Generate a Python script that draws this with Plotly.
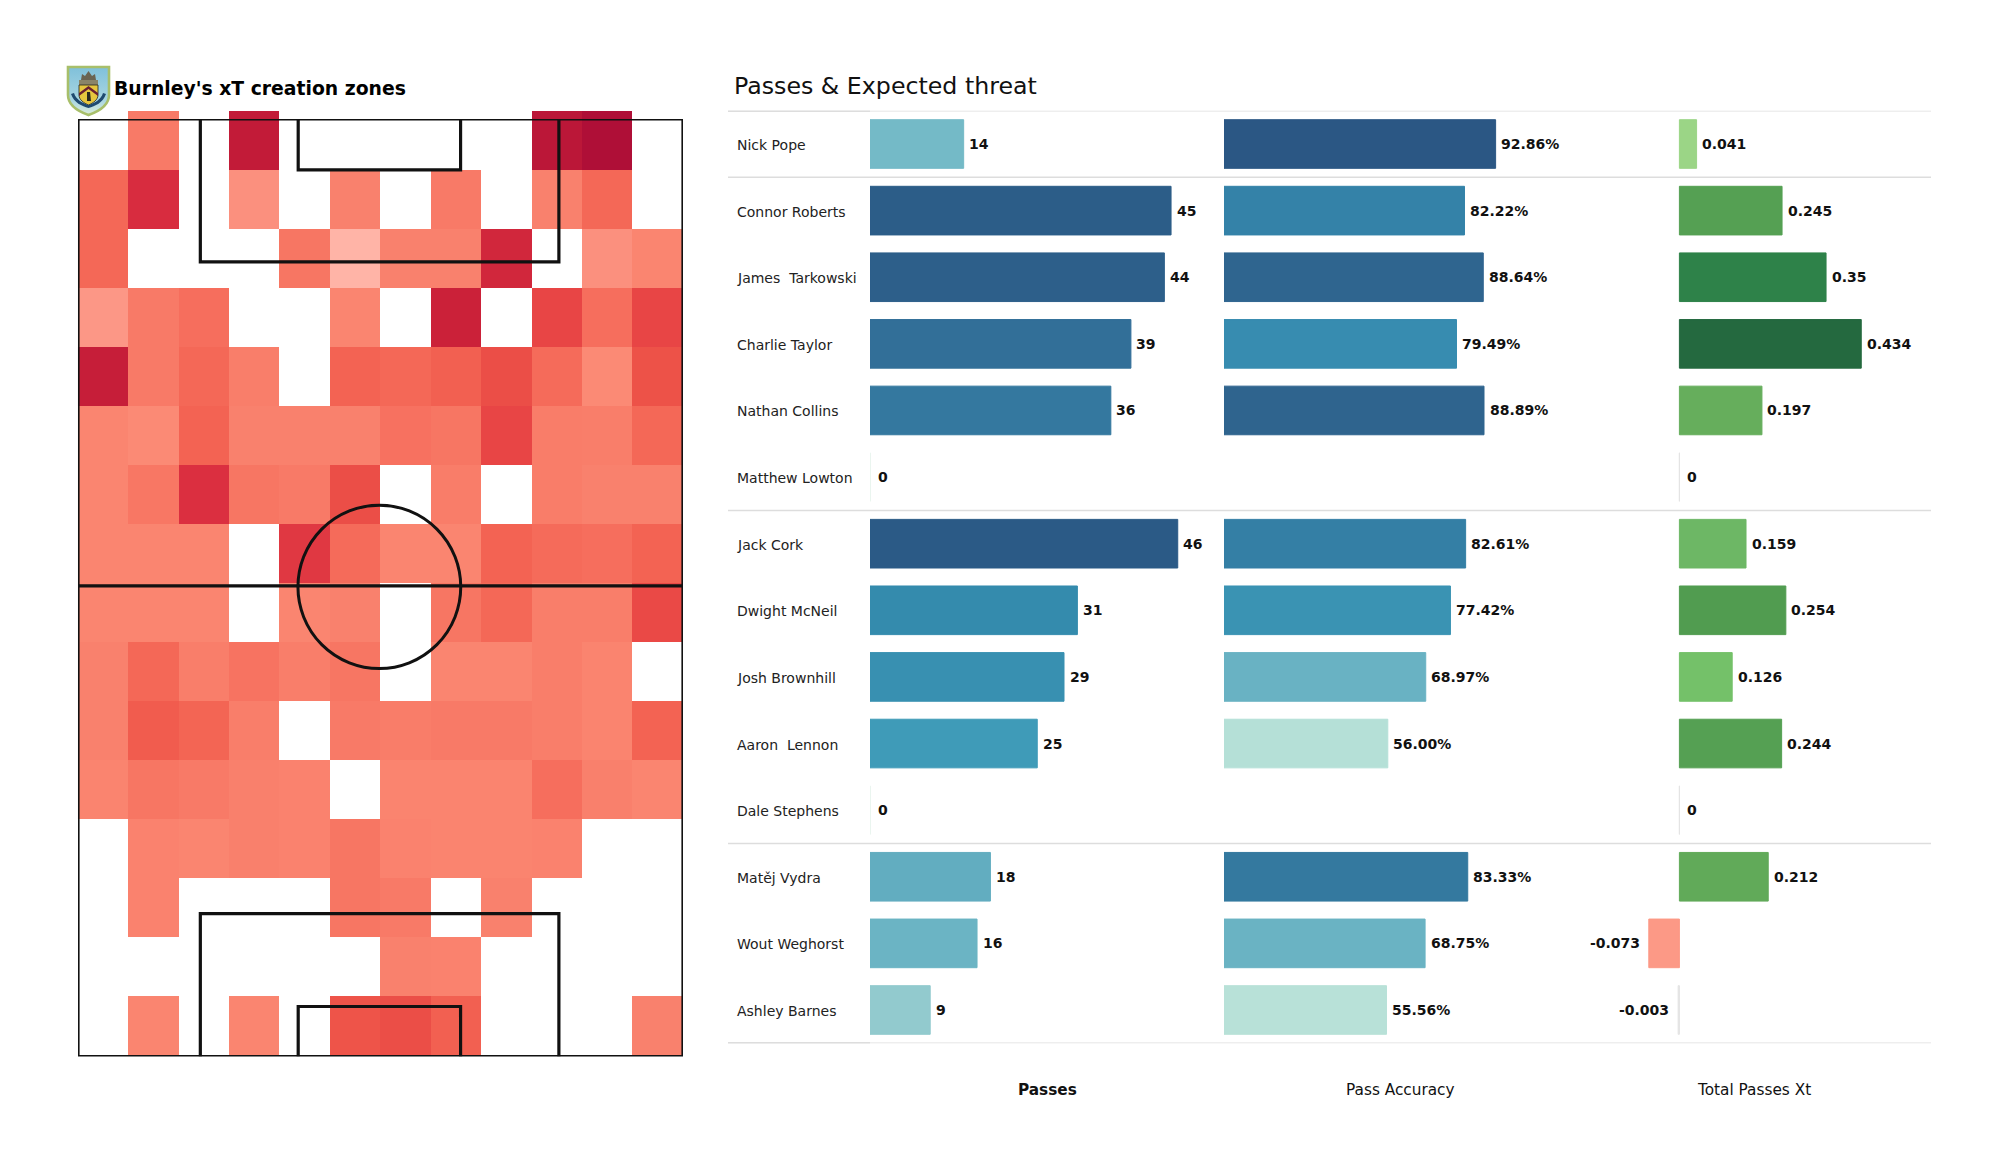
import base64
import plotly.graph_objects as go

# ---------- data ----------
players = ["Nick Pope", "Connor Roberts", "James  Tarkowski", "Charlie Taylor", "Nathan Collins",
           "Matthew Lowton", "Jack Cork", "Dwight McNeil", "Josh Brownhill", "Aaron  Lennon",
           "Dale Stephens", "Matěj Vydra", "Wout Weghorst", "Ashley Barnes"]
passes = [14, 45, 44, 39, 36, 0, 46, 31, 29, 25, 0, 18, 16, 9]
accuracy = [92.86, 82.22, 88.64, 79.49, 88.89, None, 82.61, 77.42, 68.97, 56.00, None, 83.33, 68.75, 55.56]
xt = [0.041, 0.245, 0.35, 0.434, 0.197, 0, 0.159, 0.254, 0.126, 0.244, 0, 0.212, -0.073, -0.003]
column_titles = ["Passes", "Pass Accuracy", "Total Passes Xt"]
group_edges = [-0.5, 0.5, 5.5, 10.5, 13.5]

# xT zones, top row first; None = no value in that zone
zones = [
    [None, .30, None, .88, None, None, None, None, None, .92, 1.0, None],
    [.42, .74, None, .17, None, .25, None, .30, None, .25, .42, None],
    [.42, None, None, None, .33, .02, .25, .25, .78, None, .17, .22],
    [.14, .30, .38, None, None, .22, None, .82, None, .62, .38, .62],
    [.85, .30, .42, .27, None, .45, .42, .47, .58, .40, .20, .56],
    [.22, .20, .45, .25, .25, .25, .36, .33, .62, .28, .27, .42],
    [.22, .32, .72, .33, .30, .58, None, .28, None, .28, .25, .25],
    [.22, .22, .22, None, .68, .40, .22, .22, .45, .40, .38, .45],
    [.22, .22, .22, None, .22, .25, None, .33, .42, .27, .27, .60],
    [.25, .42, .27, .35, .27, .33, None, .22, .22, .27, .23, None],
    [.25, .50, .44, .27, None, .30, .28, .30, .30, .27, .23, .45],
    [.23, .33, .30, .26, .24, None, .23, .23, .23, .38, .26, .22],
    [None, .24, .22, .26, .24, .33, .24, .23, .23, .24, None, None],
    [None, .24, None, None, None, .33, .30, None, .25, None, None, None],
    [None, None, None, None, None, None, .25, .24, None, None, None, None],
    [None, .22, None, .22, None, .55, .58, .47, None, None, None, .25],
]

# pitch outline in metres
pitch_x = [0, 68, 68, 0, 0, None, 0, 68, None,
           13.75, 13.75, 54.05, 54.05, None, 24.75, 24.75, 43.0, 43.0, None,
           13.75, 13.75, 54.05, 54.05, None, 24.75, 24.75, 43.0, 43.0]
pitch_y = [0, 0, 105, 105, 0, None, 52.3, 52.3, None,
           0, 16, 16, 0, None, 0, 5.7, 5.7, 0, None,
           105, 89, 89, 105, None, 105, 99.4, 99.4, 105]
circle_centre = (33.87, 52.4)
circle_radius = 9.15

# ---------- colour scales ----------
zone_scale = [[0, "#ffb9ad"], [.15, "#fc9583"], [.22, "#fa8570"], [.30, "#f87a67"], [.38, "#f66e5d"],
              [.45, "#f36353"], [.55, "#ee5449"], [.62, "#e84545"], [.72, "#db2f40"], [.82, "#cb2139"],
              [1, "#af0f37"]]
blue_stops = [(0, "#e4f2ea"), (9, "#92cace"), (14, "#74bac7"), (18, "#62adc0"), (25, "#3f9bb8"),
              (31, "#348bad"), (36, "#34789f"), (39, "#326f98"), (44, "#2d5f8a"), (46, "#2b5a86")]
acc_stops = [(55, "#bbe3d9"), (68.8, "#6ab3c3"), (77.4, "#3a93b3"), (79.5, "#378cb0"), (82.2, "#3482a8"),
             (83.3, "#34799f"), (88.6, "#2f658f"), (93, "#2b5784")]
xt_stops = [(-0.1, "#fb8a76"), (-0.073, "#fc9986"), (-0.01, "#e4e4e4"), (0, "#e4e4e4"), (0.001, "#c4e8b0"),
            (0.041, "#9bd586"), (0.126, "#74c169"), (0.159, "#6db765"), (0.197, "#66ae5c"),
            (0.244, "#55a053"), (0.254, "#519c50"), (0.35, "#2e8249"), (0.434, "#24693f")]


def scale(stops):
    lo, hi = stops[0][0], stops[-1][0]
    return [[(v - lo) / (hi - lo), c] for v, c in stops]


def px(x):
    return x / 2000


def py(y):
    return 1 - y / 1175


fig = go.Figure()

# ---------- heat map ----------
fig.add_trace(go.Heatmap(z=zones, x0=0.5, dx=1, y0=0.5, dy=1, colorscale=zone_scale, zmin=0, zmax=1,
                         showscale=False, hoverongaps=False, xaxis="x", yaxis="y"))
fig.add_trace(go.Scatter(x=pitch_x, y=pitch_y, mode="lines", line=dict(color="#111111", width=3.2),
                         hoverinfo="skip", showlegend=False, xaxis="x5", yaxis="y5"))

# ---------- bars ----------
def bar(values, stops, xaxis):
    sc = scale(stops)
    lo, hi = stops[0][0], stops[-1][0]
    shade = [lo if v is None else v for v in values]
    return go.Bar(x=values, y=players, orientation="h", xaxis=xaxis, yaxis="y2", showlegend=False,
                  marker=dict(color=shade, colorscale=sc, cmin=lo, cmax=hi,
                              line=dict(color=shade, colorscale=sc, cmin=lo, cmax=hi, width=1)))


fig.add_trace(bar(passes, blue_stops, "x2"))
fig.add_trace(bar(accuracy, acc_stops, "x3"))
fig.add_trace(bar(xt, xt_stops, "x4"))

annotations = []
FONT = "DejaVu Sans"


def value_labels(values, texts, xref):
    for p, v, t in zip(players, values, texts):
        if v is None:
            continue
        neg = v < 0
        annotations.append(dict(x=v, y=p, xref=xref, yref="y2", text=t, showarrow=False,
                                xanchor="right" if neg else "left", xshift=-7 if neg else (6 if v == 0 else 3.5),
                                font=dict(family=FONT, size=14, color="#111111", weight="bold")))


value_labels(passes, [str(v) for v in passes], "x2")
value_labels(accuracy, [None if v is None else f"{v:.2f}%" for v in accuracy], "x3")
value_labels(xt, [f"{v:g}" for v in xt], "x4")

for p in players:
    annotations.append(dict(x=px(734.5), y=p, xref="paper", yref="y2", text=p, showarrow=False, xanchor="left",
                            yshift=-1, font=dict(family=FONT, size=14, color="#222222")))

for i, (t, cx) in enumerate(zip(column_titles, [1047, 1400, 1754])):
    annotations.append(dict(x=px(cx), y=py(1090), xref="paper", yref="paper", text=t, showarrow=False,
                            xanchor="center", yanchor="middle",
                            font=dict(family=FONT, size=15.3, color="#111111",
                                      weight="bold" if i == 0 else "normal")))

annotations.append(dict(x=px(732), y=py(86), xref="paper", yref="paper", text="Passes & Expected threat",
                        showarrow=False, xanchor="left", yanchor="middle",
                        font=dict(family=FONT, size=23.7, color="#111111")))
annotations.append(dict(x=px(112), y=py(89), xref="paper", yref="paper", text="Burnley's xT creation zones",
                        showarrow=False, xanchor="left", yanchor="middle",
                        font=dict(family=FONT, size=18.8, color="#000000", weight="bold")))

# ---------- shapes ----------
shapes = [dict(type="circle", xref="x5", yref="y5",
               x0=circle_centre[0] - circle_radius, x1=circle_centre[0] + circle_radius,
               y0=circle_centre[1] - circle_radius, y1=circle_centre[1] + circle_radius,
               line=dict(color="#111111", width=3))]
for e in group_edges:
    shapes.append(dict(type="line", xref="paper", yref="y2", x0=px(728), x1=px(1931), y0=e, y1=e,
                       line=dict(color="#dddddd", width=1.5), layer="below"))
for e in (group_edges[0], group_edges[-1]):
    shapes.append(dict(type="line", xref="paper", yref="y2", x0=px(728), x1=px(870), y0=e, y1=e,
                       line=dict(color="#cccccc", width=1.5), layer="below"))

# ---------- crest ----------
crest = """<svg xmlns='http://www.w3.org/2000/svg' viewBox='0 0 45 52'>
<defs><linearGradient id='g' x1='0' y1='0' x2='0' y2='1'><stop offset='0' stop-color='#7fc0da'/>
<stop offset='.7' stop-color='#a9d6e2'/><stop offset='1' stop-color='#dcecd8'/></linearGradient></defs>
<path d='M2 2H43V30C43 41 31 47 22.500 50C14 47 2 41 2 30Z' fill='url(#g)' stroke='#a8bf6a' stroke-width='2.6'/>
<path d='M15 15L16 9L19 11L22.500 6L26 11L29 9L30 15Z' fill='#6a6452'/>
<rect x='13' y='15' width='19' height='5' fill='#8a8468'/>
<path d='M13 20H32V30C32 35 27 38 22.500 40C18 38 13 35 13 30Z' fill='#e6c63e' stroke='#26261c' stroke-width='.8'/>
<path d='M13 28L22.500 21L32 28V31L22.500 24L13 31Z' fill='#6a2030'/>
<path d='M21 27L24 27L25 36L21 36Z' fill='#2a2a20'/>
<path d='M5 29C8 38 16 41 22.500 43C29 41 37 38 40 29L37 28C35 35 28 38 22.500 40C17 38 10 35 8 28Z' fill='#1f4a70'/>
</svg>"""
crest_uri = "data:image/svg+xml;base64," + base64.b64encode(crest.encode()).decode()

hidden = dict(visible=False, fixedrange=True)
fig.update_layout(
    width=2000, height=1175, margin=dict(l=0, r=0, t=0, b=0, pad=0),
    paper_bgcolor="white", plot_bgcolor="rgba(0,0,0,0)", barmode="overlay", bargap=0.27, hovermode=False,
    annotations=annotations, shapes=shapes,
    images=[dict(source=crest_uri, xref="paper", yref="paper", x=px(66), y=py(65), sizex=px(45), sizey=52 / 1175,
                 xanchor="left", yanchor="top", sizing="stretch", layer="above")],
    xaxis=dict(hidden, domain=[px(77.8), px(682.4)], range=[0, 12]),
    yaxis=dict(hidden, domain=[py(1055), py(111)], range=[16, 0]),
    xaxis5=dict(hidden, domain=[px(78), px(683)], range=[0, 68], anchor="y5"),
    yaxis5=dict(hidden, domain=[py(1056.5), py(119)], range=[105, 0], anchor="x5"),
    yaxis2=dict(hidden, domain=[py(1043.3), py(110.7)], type="category", categoryorder="array",
                categoryarray=players, range=[13.5, -0.5], anchor="x2"),
    xaxis2=dict(hidden, domain=[px(870), px(1204.5)], range=[0, 50], anchor="y2"),
    xaxis3=dict(hidden, domain=[px(1224), px(1516.5)], range=[0, 100], anchor="y2"),
    xaxis4=dict(hidden, domain=[px(1637.5), px(1888.9)], range=[-0.1, 0.5], anchor="y2"),
)

fig.write_html("out.html", config=dict(displayModeBar=False),
               post_script="document.body.style.margin='0';document.body.style.overflow='hidden';")
